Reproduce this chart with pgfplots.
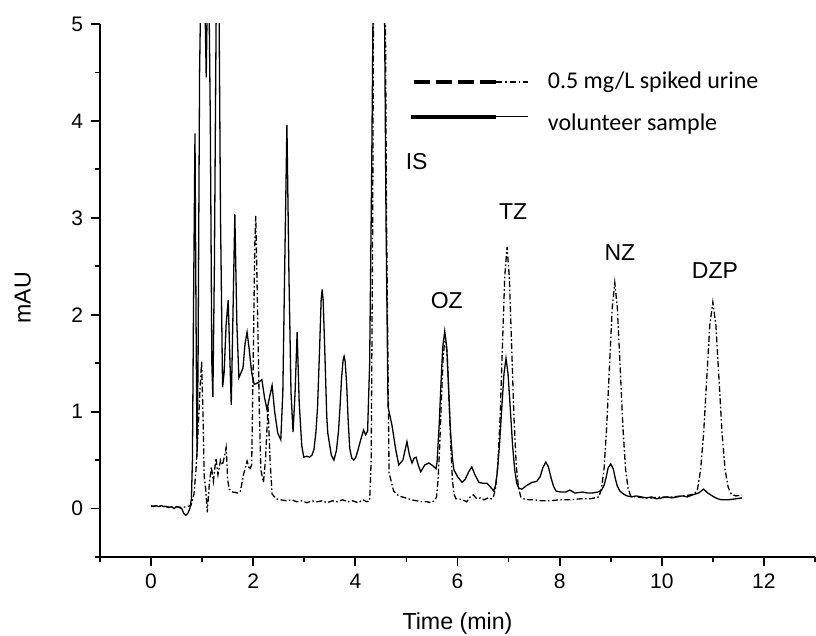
\documentclass[border=0pt]{standalone}
\usepackage{pgfplots}
\pgfplotsset{compat=1.18}
\usepackage{pgfplotstable}
\usepackage{fontspec}
\setmainfont{Liberation Sans}
\newfontfamily\carlito{Carlito}

\pgfplotstableread{
x y
0.00 0.03
0.05 0.02
0.10 0.03
0.15 0.02
0.20 0.03
0.25 0.02
0.30 0.02
0.35 0.01
0.40 0.02
0.45 0.00
0.50 0.02
0.55 0.01
0.60 0.00
0.64 -0.05
0.68 -0.07
0.72 -0.05
0.76 0.00
0.79 0.10
0.81 0.50
0.83 2.00
0.86 3.87
0.88 2.00
0.90 0.53
0.92 1.50
0.95 4.50
0.98 5.60
1.03 6.00
1.08 4.45
1.12 6.00
1.16 4.00
1.19 1.50
1.21 1.15
1.24 2.50
1.28 5.50
1.32 6.00
1.36 3.00
1.40 1.25
1.43 1.40
1.47 1.90
1.51 2.15
1.54 1.60
1.57 1.07
1.60 1.90
1.64 3.04
1.68 1.90
1.72 1.35
1.76 1.40
1.80 1.45
1.84 1.70
1.88 1.82
1.92 1.65
1.97 1.40
2.02 1.28
2.10 1.30
2.17 1.33
2.22 1.15
2.27 1.02
2.32 1.15
2.37 1.27
2.42 1.00
2.48 0.78
2.54 0.71
2.58 1.20
2.62 2.60
2.66 3.96
2.70 2.40
2.74 1.20
2.78 0.79
2.82 1.20
2.86 1.82
2.90 1.10
2.95 0.65
2.99 0.53
3.05 0.54
3.10 0.53
3.15 0.55
3.19 0.61
3.23 0.80
3.26 1.05
3.30 1.65
3.33 2.15
3.35 2.26
3.37 2.15
3.40 1.65
3.44 0.95
3.46 0.78
3.49 0.68
3.53 0.55
3.58 0.50
3.63 0.60
3.67 0.80
3.70 1.05
3.73 1.35
3.76 1.53
3.78 1.57
3.80 1.52
3.83 1.28
3.86 0.90
3.89 0.62
3.93 0.52
3.97 0.50
4.01 0.53
4.05 0.60
4.10 0.70
4.16 0.81
4.20 0.76
4.24 0.80
4.28 1.50
4.32 3.50
4.36 6.00
4.56 6.00
4.60 3.00
4.64 1.05
4.72 0.85
4.79 0.61
4.85 0.45
4.93 0.50
5.01 0.69
5.06 0.55
5.11 0.47
5.15 0.52
5.19 0.53
5.23 0.45
5.28 0.38
5.36 0.45
5.44 0.47
5.52 0.44
5.58 0.41
5.60 0.48
5.64 0.85
5.675 1.27
5.71 1.66
5.75 1.83
5.79 1.66
5.825 1.25
5.86 0.82
5.90 0.52
5.93 0.40
6.00 0.33
6.09 0.27
6.15 0.30
6.22 0.38
6.28 0.43
6.34 0.35
6.42 0.27
6.50 0.26
6.58 0.26
6.65 0.22
6.71 0.18
6.745 0.24
6.78 0.38
6.82 0.64
6.865 1.02
6.91 1.39
6.95 1.55
6.99 1.39
7.035 1.02
7.08 0.64
7.12 0.40
7.16 0.26
7.20 0.21
7.26 0.20
7.36 0.24
7.46 0.27
7.55 0.28
7.62 0.33
7.67 0.42
7.73 0.48
7.78 0.43
7.83 0.32
7.88 0.23
7.93 0.18
8.03 0.17
8.12 0.17
8.20 0.19
8.30 0.16
8.45 0.17
8.55 0.16
8.63 0.16
8.75 0.17
8.82 0.19
8.87 0.24
8.91 0.32
8.95 0.42
9.00 0.46
9.05 0.41
9.09 0.31
9.13 0.23
9.18 0.18
9.25 0.15
9.32 0.13
9.41 0.12
9.50 0.13
9.60 0.12
9.70 0.11
9.80 0.12
9.90 0.10
10.00 0.11
10.10 0.12
10.20 0.11
10.30 0.12
10.40 0.13
10.50 0.12
10.60 0.14
10.72 0.16
10.82 0.20
10.90 0.16
10.96 0.14
11.02 0.12
11.10 0.10
11.17 0.09
11.30 0.09
11.45 0.10
11.57 0.11
}\volunteer

\pgfplotstableread{
x y
0.00 0.02
0.10 0.03
0.20 0.02
0.30 0.02
0.40 0.01
0.50 0.02
0.60 0.01
0.70 0.02
0.78 0.03
0.84 0.15
0.88 0.40
0.92 0.80
0.96 1.25
0.99 1.52
1.02 0.90
1.04 0.33
1.07 0.20
1.10 -0.04
1.14 0.25
1.18 0.43
1.22 0.28
1.27 0.52
1.31 0.35
1.36 0.50
1.40 0.45
1.44 0.55
1.47 0.63
1.50 0.30
1.53 0.20
1.60 0.17
1.70 0.16
1.75 0.18
1.81 0.35
1.88 0.49
1.93 0.40
1.97 0.45
2.00 1.50
2.03 2.70
2.05 3.02
2.08 2.20
2.12 1.00
2.15 0.40
2.20 0.27
2.24 0.50
2.29 1.05
2.33 0.50
2.37 0.15
2.45 0.10
2.55 0.09
2.65 0.08
2.75 0.09
2.85 0.07
2.95 0.08
3.05 0.06
3.15 0.08
3.25 0.07
3.35 0.08
3.45 0.06
3.55 0.08
3.65 0.07
3.75 0.09
3.85 0.07
3.95 0.08
4.05 0.06
4.15 0.09
4.22 0.07
4.28 0.08
4.31 0.50
4.34 3.00
4.36 6.00
4.58 6.00
4.61 3.00
4.66 0.37
4.75 0.18
4.85 0.13
4.98 0.11
5.10 0.09
5.20 0.08
5.30 0.07
5.40 0.07
5.48 0.06
5.55 0.08
5.59 0.12
5.62 0.30
5.65 0.63
5.685 1.12
5.72 1.57
5.76 1.78
5.80 1.57
5.835 1.12
5.87 0.63
5.90 0.30
5.93 0.15
5.97 0.10
6.03 0.10
6.10 0.09
6.18 0.07
6.25 0.12
6.31 0.14
6.38 0.10
6.45 0.11
6.52 0.09
6.60 0.11
6.66 0.10
6.70 0.11
6.745 0.21
6.79 0.45
6.835 0.95
6.88 1.68
6.925 2.39
6.97 2.70
7.015 2.39
7.06 1.68
7.105 0.95
7.15 0.45
7.195 0.21
7.24 0.12
7.30 0.10
7.40 0.09
7.50 0.09
7.65 0.08
7.80 0.08
8.00 0.09
8.20 0.09
8.40 0.10
8.60 0.10
8.77 0.12
8.82 0.21
8.87 0.41
8.92 0.83
8.975 1.46
9.03 2.07
9.08 2.33
9.13 2.07
9.185 1.46
9.24 0.83
9.29 0.41
9.34 0.21
9.39 0.13
9.50 0.12
9.65 0.11
9.80 0.11
10.00 0.12
10.20 0.12
10.40 0.13
10.55 0.14
10.64 0.15
10.70 0.20
10.76 0.40
10.82 0.78
10.88 1.34
10.94 1.89
11.00 2.13
11.06 1.89
11.12 1.34
11.18 0.78
11.24 0.40
11.30 0.22
11.36 0.15
11.45 0.13
11.57 0.14
}\spiked

\begin{document}
\begin{tikzpicture}
\useasboundingbox (-50pt,-39.5pt) rectangle (358pt,278.5pt);
\begin{axis}[
  at={(0pt,0pt)}, anchor=south west,
  scale only axis,
  width=357.5pt, height=266.5pt,
  xmin=-1, xmax=13, ymin=-0.5, ymax=5,
  axis x line*=bottom, axis y line*=left,
  axis line style={line width=0.9pt},
  every tick/.style={line width=0.9pt, black},
  tick align=outside,
  major tick length=4.5pt, minor tick length=2.5pt,
  xtick={0,2,4,6,8,10,12},
  minor xtick={-1,1,3,5,7,9,11,13},
  ytick={0,1,2,3,4,5},
  minor ytick={-0.5,0.5,1.5,2.5,3.5,4.5},
  /pgf/number format/assume math mode=true,
  tick label style={font=\fontsize{10.5}{12}\selectfont},
  xticklabel style={yshift=-0.5pt},
  yticklabel style={xshift=-0.5pt},
  xlabel={Time (min)},
  ylabel={mAU},
  label style={font=\fontsize{11.6}{13}\selectfont},
  xlabel style={at={(axis description cs:0.5,0)}, anchor=base, yshift=-36.5pt},
  ylabel style={at={(axis description cs:-0.108,0.486)}, anchor=center},
  legend style={at={(axis description cs:0.432,0.918)}, anchor=north west,
    draw=none, fill=none, font=\carlito\fontsize{12}{14}\selectfont,
    row sep=7pt, inner sep=0pt,
    /tikz/every odd column/.append style={column sep=7.5pt}},
  legend cell align=left,
  clip=true,
]
\addplot[black, line width=0.65pt, forget plot] table[x=x,y=y] {\volunteer};
\addplot[black, line width=0.65pt, dash pattern=on 3pt off 1.2pt on 0.8pt off 1.2pt, forget plot] table[x=x,y=y] {\spiked};

\addlegendimage{legend image code/.code={
  \draw[line width=2pt, dash pattern=on 8pt off 3pt] (1.5pt,0pt) -- (42.5pt,0pt);
  \draw[line width=0.6pt, dash pattern=on 3pt off 1.5pt on 0.8pt off 1.5pt] (42.5pt,0pt) -- (58.5pt,0pt);
}}
\addlegendentry{0.5 mg/L spiked urine}
\addlegendimage{legend image code/.code={
  \draw[line width=2pt] (0pt,3.5pt) -- (42.5pt,3.5pt);
  \draw[line width=0.6pt] (42.5pt,3.5pt) -- (58.5pt,3.5pt);
}}
\addlegendentry{volunteer sample}

\node[font=\fontsize{11.5}{13}\selectfont] at (axis cs:5.2,3.58) {IS};
\node[font=\fontsize{11.5}{13}\selectfont] at (axis cs:5.79,2.15) {OZ};
\node[font=\fontsize{11.5}{13}\selectfont] at (axis cs:7.09,3.06) {TZ};
\node[font=\fontsize{11.5}{13}\selectfont] at (axis cs:9.18,2.64) {NZ};
\node[font=\fontsize{11.5}{13}\selectfont] at (axis cs:11.04,2.46) {DZP};
\end{axis}
\end{tikzpicture}
\end{document}
